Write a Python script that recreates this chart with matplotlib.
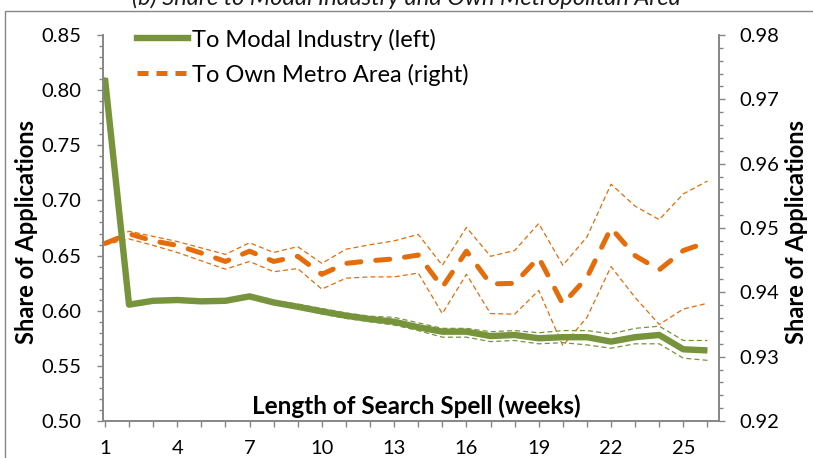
import matplotlib.pyplot as plt
from matplotlib.patches import Rectangle
from matplotlib.lines import Line2D
from matplotlib.ticker import MultipleLocator, FixedLocator, FixedFormatter

plt.rcParams['font.family'] = ['Lato', 'DejaVu Sans']

weeks = list(range(1, 27))

# share to modal industry (left axis) with band
modal = [0.811, 0.6055, 0.609, 0.6097, 0.6085, 0.609, 0.613, 0.6075, 0.6036, 0.5994,
         0.5955, 0.5924, 0.590, 0.585, 0.581, 0.581, 0.577, 0.578, 0.575, 0.576,
         0.576, 0.572, 0.576, 0.578, 0.565, 0.564]
modal_hi = [0.812, 0.607, 0.610, 0.611, 0.610, 0.610, 0.614, 0.609, 0.606, 0.602,
            0.598, 0.595, 0.594, 0.589, 0.584, 0.584, 0.581, 0.582, 0.580, 0.582,
            0.582, 0.579, 0.584, 0.586, 0.573, 0.573]
modal_lo = [0.810, 0.604, 0.608, 0.608, 0.607, 0.608, 0.612, 0.606, 0.602, 0.597,
            0.593, 0.590, 0.587, 0.582, 0.576, 0.576, 0.572, 0.573, 0.570, 0.571,
            0.569, 0.566, 0.570, 0.570, 0.557, 0.555]

# share to own metro area (right axis) with band
metro = [0.9476, 0.9491, 0.9480, 0.9473, 0.9461, 0.9448, 0.9464, 0.9448, 0.9456, 0.9428,
         0.9445, 0.9449, 0.9452, 0.9458, 0.9408, 0.9464, 0.9413, 0.9414, 0.9454, 0.9382,
         0.9423, 0.9500, 0.9457, 0.9435, 0.9465, 0.9478]
metro_hi = [0.9478, 0.9495, 0.9487, 0.9479, 0.9469, 0.9459, 0.9477, 0.9462, 0.9471, 0.9445,
            0.9467, 0.9474, 0.9480, 0.9490, 0.9442, 0.9501, 0.9456, 0.9465, 0.9507, 0.9442,
            0.9486, 0.9568, 0.9534, 0.9513, 0.9553, 0.9573]
metro_lo = [0.9474, 0.9483, 0.9473, 0.9462, 0.9449, 0.9436, 0.9448, 0.9432, 0.9437, 0.9405,
            0.9422, 0.9424, 0.9424, 0.9430, 0.9367, 0.9428, 0.9367, 0.9366, 0.9403, 0.9317,
            0.9361, 0.9440, 0.9392, 0.9350, 0.9374, 0.9383]

GREEN = "#77933C"
ORANGE = "#E46C0A"
GRAY = "#868686"

fig = plt.figure(figsize=(8.13, 4.58), dpi=100)
ax = fig.add_axes([103 / 813, 1 - 421 / 458, 616 / 813, 386 / 458])
ax2 = ax.twinx()
ax.set_zorder(ax2.get_zorder() + 1)
ax.patch.set_visible(False)

# outer chart border, cut by the image edge
fig.patches.append(Rectangle((5 / 813, -0.1), 1.2, 1.1 - 11 / 458, transform=fig.transFigure,
                             fill=False, edgecolor=GRAY, lw=1.0))

# title, mostly cut off at the top
fig.text(406 / 813, 1 - 5 / 458, "(b) Share to Modal Industry and Own Metropolitan Area",
         ha="center", va="baseline", fontsize=17, style="italic", color="#1a1a1a")

thin = dict(lw=0.9, dashes=(4, 2.5))
ax2.plot(weeks, metro_hi, color=ORANGE, **thin)
ax2.plot(weeks, metro_lo, color=ORANGE, **thin)
ax2.plot(weeks, metro, color=ORANGE, lw=3.6, dashes=(2.8, 3.0), dash_capstyle="round")

ax.plot(weeks, modal_hi, color=GREEN, **thin)
ax.plot(weeks, modal_lo, color=GREEN, **thin)
ax.plot(weeks, modal, color=GREEN, lw=4.6, solid_capstyle="butt")

ax.set_xlim(0.92, 26.48)
ax.set_ylim(0.50, 0.85)
ax2.set_ylim(0.92, 0.98)

ax.xaxis.set_major_locator(FixedLocator(weeks))
ax.xaxis.set_major_formatter(FixedFormatter([str(w) if (w - 1) % 3 == 0 else "" for w in weeks]))
ax.yaxis.set_major_locator(MultipleLocator(0.05))
ax.yaxis.set_minor_locator(MultipleLocator(0.01))
ax.yaxis.set_major_formatter(plt.FormatStrFormatter("%.2f"))
ax2.yaxis.set_major_locator(MultipleLocator(0.01))
ax2.yaxis.set_minor_locator(MultipleLocator(0.002))
ax2.yaxis.set_major_formatter(plt.FormatStrFormatter("%.2f"))

for a in (ax, ax2):
    a.spines["top"].set_visible(False)
    for s in ("left", "right", "bottom"):
        a.spines[s].set_color(GRAY)
        a.spines[s].set_linewidth(1.2)
    a.tick_params(which="both", direction="out", color=GRAY, width=1.0, labelsize=14.5,
                  labelcolor="black")
    a.tick_params(which="major", length=4.5)
    a.tick_params(which="minor", length=3)
ax.tick_params(axis="x", pad=9)
ax.tick_params(axis="y", which="both", pad=11)
ax2.tick_params(axis="y", which="both", pad=10)

ax.set_ylabel("Share of Applications", fontsize=17, fontweight="bold")
ax.yaxis.set_label_coords((38 - 103) / 616, 0.49)
ax2.set_ylabel("Share of Applications", fontsize=17, fontweight="bold")
ax2.yaxis.set_label_coords((785 - 103) / 616, 0.49)

ax.text((416 - 103) / 616, (421 - 406) / 386, "Length of Search Spell (weeks)",
        transform=ax.transAxes, ha="center", va="center", fontsize=17.5, fontweight="bold")

handles = [Line2D([], [], color=GREEN, lw=4.6),
           Line2D([], [], color=ORANGE, lw=3.6, dashes=(2.2, 1.6))]
ax.legend(handles, ["To Modal Industry (left)", "To Own Metro Area (right)"],
          loc="upper left", bbox_to_anchor=((137 - 103) / 616, 1.017), frameon=False,
          fontsize=17, handlelength=2.15, handletextpad=0.2, labelspacing=0.55,
          borderpad=0, borderaxespad=0)

fig.savefig("out.png", dpi=100)
